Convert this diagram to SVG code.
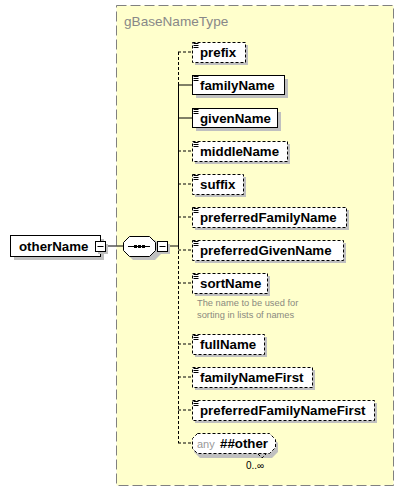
<svg xmlns="http://www.w3.org/2000/svg" width="403" height="490" viewBox="0 0 403 490">
<style>
.el{fill:#fff;stroke:#000;stroke-width:1}
.opt{stroke-dasharray:3,2}
.sh{fill:#c0c0c0}
.t{font-family:"Liberation Sans",Arial,sans-serif;font-size:13.3px;font-weight:bold;fill:#000}
.ic{stroke:#000;stroke-width:1}
.ln{stroke:#000;stroke-width:1;fill:none}
.dl{stroke:#000;stroke-width:1;fill:none;stroke-dasharray:3,2}
</style>
<defs>
<g id="icon"><path class="ic" d="M1.5 1.5h5M1.5 3.5h5M1.5 5.5h5"/></g>
</defs>
<rect width="403" height="490" fill="#fff"/>
<g id="group">
<rect x="116.5" y="5.5" width="277" height="480" fill="#ffffcc" stroke="#808080" stroke-dasharray="10,4"/>
<text x="124" y="26" font-family="Liberation Sans,Arial,sans-serif" font-size="13.6" fill="#888">gBaseNameType</text>
</g>
<g id="connectors">
<path class="ln" d="M106 246H123M167 246H178"/>
<path class="dl" d="M178.5 52V85"/>
<path class="ln" d="M178.5 85V246"/>
<path class="dl" d="M178.5 246V443"/>
<path class="dl" d="M178 52H192"/>
<path class="ln" d="M178 85H192M178 118H192"/>
<path class="dl" d="M178 151H192M178 184H192M178 217H192M178 250H192M178 283H192M178 344H192M178 377H192M178 410H192M178 443H192"/>
</g>
<g id="otherName">
<rect class="sh" x="14" y="239" width="90" height="21"/>
<rect class="el" x="10.5" y="235.5" width="90" height="21"/>
<text class="t" x="19" y="251">otherName</text>
<rect class="sh" x="98" y="244" width="10" height="10"/>
<rect class="el" x="95.5" y="241.5" width="10" height="10"/>
<path class="ln" d="M97.5 246.5h6"/>
</g>
<g id="sequence">
<path class="sh" d="M133 240H155L162 247V253L155 260H133L126 253V247Z"/>
<path class="el" d="M129.5 236.5H149.5L155.5 242.5V250.5L149.5 256.5H129.5L123.5 250.5V242.5Z"/>
<path class="ln" d="M128 246.5H150"/>
<rect x="134" y="245" width="3" height="3" fill="#000"/>
<rect x="138" y="245" width="3" height="3" fill="#000"/>
<rect x="142" y="245" width="3" height="3" fill="#000"/>
<rect class="sh" x="160" y="244" width="10" height="10"/>
<rect class="el" x="157.5" y="241.5" width="10" height="10"/>
<path class="ln" d="M159.5 246.5h6"/>
</g>
<g id="prefix">
<rect class="sh" x="195" y="45" width="53" height="20"/>
<rect class="el opt" x="192.5" y="42.5" width="53" height="20"/>
<use href="#icon" x="192" y="42"/>
<text class="t" x="200" y="57">prefix</text>
</g>
<g id="familyName">
<rect class="sh" x="196" y="79" width="92" height="19"/>
<rect class="el" x="192.5" y="75.5" width="92" height="19"/>
<use href="#icon" x="192" y="75"/>
<text class="t" x="200" y="90">familyName</text>
</g>
<g id="givenName">
<rect class="sh" x="196" y="112" width="85" height="19"/>
<rect class="el" x="192.5" y="108.5" width="85" height="19"/>
<use href="#icon" x="192" y="108"/>
<text class="t" x="200" y="123">givenName</text>
</g>
<g id="middleName">
<rect class="sh" x="195" y="144" width="95" height="20"/>
<rect class="el opt" x="192.5" y="141.5" width="95" height="20"/>
<use href="#icon" x="192" y="141"/>
<text class="t" x="200" y="156">middleName</text>
</g>
<g id="suffix">
<rect class="sh" x="195" y="177" width="51" height="20"/>
<rect class="el opt" x="192.5" y="174.5" width="51" height="20"/>
<use href="#icon" x="192" y="174"/>
<text class="t" x="200" y="189">suffix</text>
</g>
<g id="preferredFamilyName">
<rect class="sh" x="195" y="210" width="154" height="20"/>
<rect class="el opt" x="192.5" y="207.5" width="154" height="20"/>
<use href="#icon" x="192" y="207"/>
<text class="t" x="200" y="222">preferredFamilyName</text>
</g>
<g id="preferredGivenName">
<rect class="sh" x="195" y="243" width="151" height="20"/>
<rect class="el opt" x="192.5" y="240.5" width="151" height="20"/>
<use href="#icon" x="192" y="240"/>
<text class="t" x="200" y="255">preferredGivenName</text>
</g>
<g id="sortName">
<rect class="sh" x="195" y="276" width="75" height="20"/>
<rect class="el opt" x="192.5" y="273.5" width="75" height="20"/>
<use href="#icon" x="192" y="273"/>
<text class="t" x="200" y="288">sortName</text>
<text font-family="Liberation Sans,Arial,sans-serif" font-size="9.3" fill="#8a8a80"><tspan x="197" y="306">The name to be used for</tspan><tspan x="197" y="318">sorting in lists of names</tspan></text>
</g>
<g id="fullName">
<rect class="sh" x="195" y="337" width="72" height="20"/>
<rect class="el opt" x="192.5" y="334.5" width="72" height="20"/>
<use href="#icon" x="192" y="334"/>
<text class="t" x="200" y="349">fullName</text>
</g>
<g id="familyNameFirst">
<rect class="sh" x="195" y="370" width="120" height="20"/>
<rect class="el opt" x="192.5" y="367.5" width="120" height="20"/>
<use href="#icon" x="192" y="367"/>
<text class="t" x="200" y="382">familyNameFirst</text>
</g>
<g id="preferredFamilyNameFirst">
<rect class="sh" x="195" y="403" width="182" height="20"/>
<rect class="el opt" x="192.5" y="400.5" width="182" height="20"/>
<use href="#icon" x="192" y="400"/>
<text class="t" x="200" y="415">preferredFamilyNameFirst</text>
</g>
<g id="any">
<path class="sh" d="M200 437H272L278 443V452L272 458H200L194 452V443Z"/>
<path class="el opt" d="M197.5 433.5H269.5L275.5 439.5V447.5L269.5 453.5H197.5L192.5 448.5V438.5Z"/>
<path class="dl" d="M258 454L262 458L266 454"/>
<text x="197" y="448" font-family="Liberation Sans,Arial,sans-serif" font-size="11" fill="#999">any</text>
<text class="t" x="220" y="448">##other</text>
<text x="246" y="469" font-family="Liberation Sans,Arial,sans-serif" font-size="10" fill="#000">0..∞</text>
</g>
</svg>
